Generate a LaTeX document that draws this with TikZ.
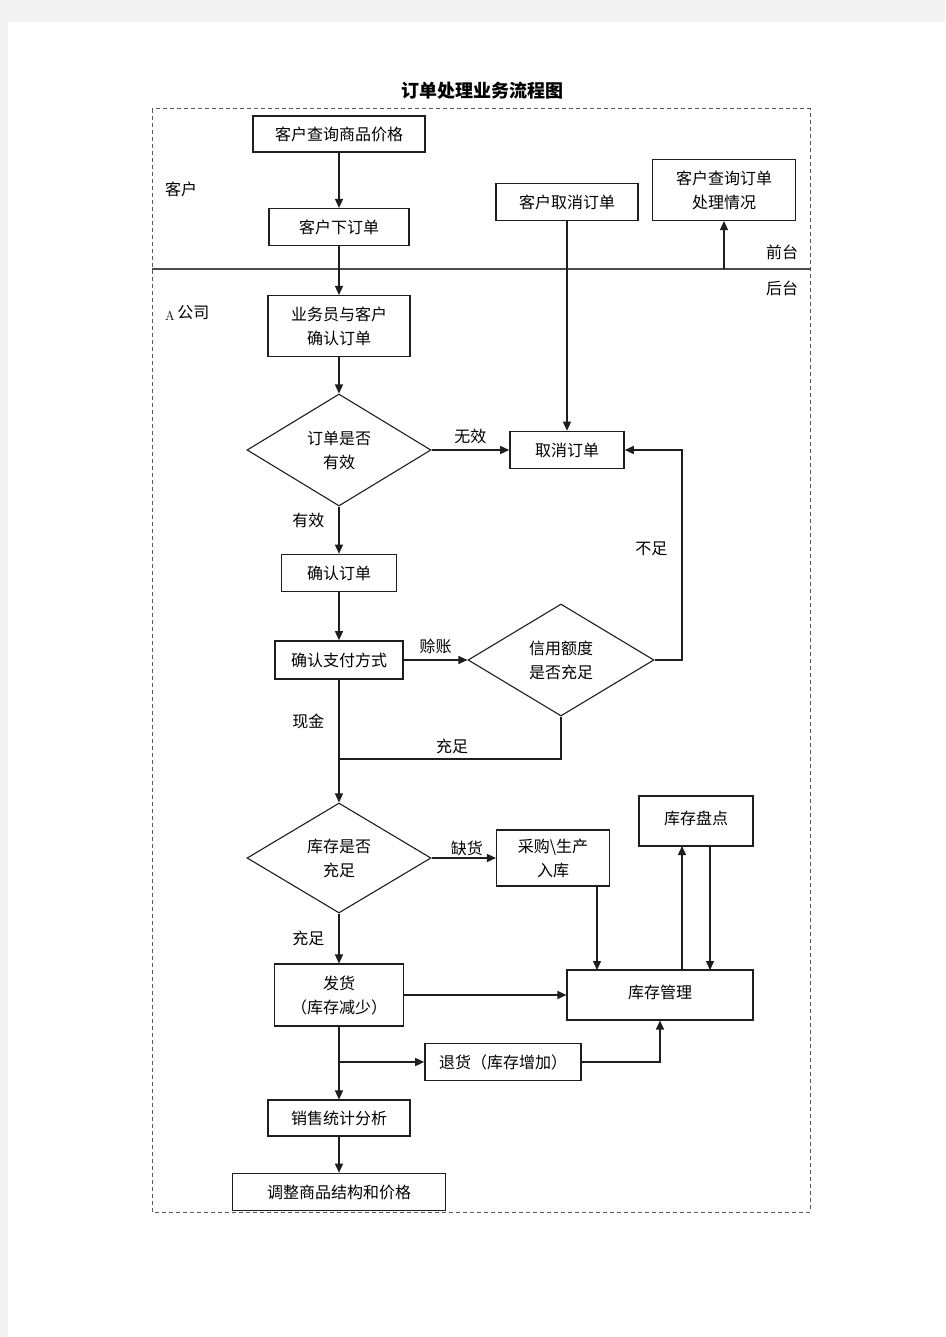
\documentclass[tikz,border=0pt]{standalone}
\usepackage{fontspec}
\newfontfamily\cjk{Noto Sans CJK SC}
\usetikzlibrary{shapes.geometric,arrows.meta}
\definecolor{pagebg}{RGB}{243,243,243}
\definecolor{ink}{RGB}{30,30,30}
\begin{document}
\begin{tikzpicture}[x=1pt,y=-1pt,
  box/.style={draw=ink, line width=1.1pt, inner sep=0pt, align=center, font=\cjk\fontsize{16}{24}\selectfont},
  thk/.style={line width=1.6pt},
  dia/.style={draw=ink, diamond, line width=1.1pt, inner sep=0pt, align=center, minimum width=184pt, minimum height=112pt, font=\cjk\fontsize{16}{24}\selectfont},
  lbl/.style={font=\cjk\fontsize{16}{18}\selectfont, inner sep=0pt},
  arr/.style={draw=ink, -{Triangle[length=9pt,width=8pt]}, line width=1.4pt},
  ln/.style={draw=ink, line width=1.4pt}]
% page
\fill[pagebg] (0,0) rectangle (945,1337);
\fill[white] (8,22) rectangle (945,1337);
\useasboundingbox (0,0) rectangle (945,1337);
% title
\node[font=\cjk\bfseries\fontsize{18}{20}\selectfont, inner sep=0pt] (title) at (482,91) {订单处理业务流程图};
% frame
\draw[gray!70!black, line width=1pt, dash pattern=on 4pt off 3pt] (152,109) rectangle (810,1212);
\draw[gray!60!black, line width=1.5pt] (152,269) coordinate (divl) -- (810,269) coordinate (divr);
% lane labels
\node[lbl] (kehu) at (181,189) {客户};
\node[lbl] (qiantai) at (782,252) {前台};
\node[lbl] (houtai) at (782,288) {后台};
\node[lbl, anchor=west] (gongsi) at (165,313) {\raisebox{-2pt}{\fontsize{13}{13}\selectfont\rmfamily A}\,公司};
% boxes
\node[box, minimum width=172pt, minimum height=36pt] (q1) at (339,134) {客户查询商品价格};
\node[box, minimum width=140pt, minimum height=37pt] (xd) at (339,227) {客户下订单};
\node[box, thk, minimum width=142pt, minimum height=37pt] (qx) at (567,202) {客户取消订单};
\node[box, minimum width=143pt, minimum height=61pt] (cx) at (724,190) {客户查询订单\\处理情况};
\node[box, minimum width=142pt, minimum height=61pt] (yw) at (339,326) {业务员与客户\\确认订单};
\node[dia] (d1) at (339,450) {订单是否\\有效};
\node[box, thk, minimum width=114pt, minimum height=37pt] (qxdd) at (567,450) {取消订单};
\node[box, thk, minimum width=115pt, minimum height=37pt] (qr) at (339,573) {确认订单};
\node[box, thk, minimum width=128pt, minimum height=38pt] (zf) at (339,660) {确认支付方式};
\node[dia, minimum width=186pt] (d2) at (561,660) {信用额度\\是否充足};
\node[dia, minimum height=110pt] (d3) at (339,858) {库存是否\\充足};
\node[box, minimum width=113pt, minimum height=56pt] (cg) at (553,858) {采购\textbackslash 生产\\入库};
\node[box, thk, minimum width=114pt, minimum height=50pt] (pd) at (696,821) {\raisebox{6pt}{库存盘点}};
\node[box, minimum width=129pt, minimum height=62pt] (fh) at (339,995) {发货\\（库存减少）};
\node[box, minimum width=186pt, minimum height=50pt] (gl) at (660,995) {\raisebox{6pt}{库存管理}};
\node[box, thk, minimum width=156pt, minimum height=37pt] (th) at (503,1062) {退货（库存增加）};
\node[box, minimum width=142pt, minimum height=36pt] (xs) at (339,1118) {销售统计分析};
\node[box, thk, minimum width=213pt, minimum height=37pt] (tz) at (339,1192) {调整商品结构和价格};
% helper coordinates
\coordinate (cxin) at (724,269);
\coordinate (j1) at (339,759);
\coordinate (j2) at (339,1062);
\coordinate (bend1) at (682,660);
\coordinate (bend2) at (682,450);
\coordinate (bend3) at (561,759);
\coordinate (bend4) at (660,1062);
\coordinate (cgout) at (597,886);
\coordinate (glin1) at (597,970);
\coordinate (glout) at (682,970);
\coordinate (pdin) at (682,846);
\coordinate (pdout) at (710,846);
\coordinate (glin2) at (710,970);
% connectors
\draw[arr] (q1) -- (xd);
\draw[arr] (xd) -- (yw);
\draw[arr] (cxin) -- (cx);
\draw[arr] (qx) -- (qxdd);
\draw[arr] (yw) -- (d1);
\draw[arr] (d1.east) -- node[lbl, above=5pt] (wx) {无效} (qxdd.west);
\draw[arr] (d1.south) -- node[lbl, pos=0.3, left=14pt] (yx) {有效} (qr.north);
\draw[arr] (qr) -- (zf);
\draw[arr] (zf.east) -- node[lbl, above=5pt, pos=0.5] (sz) {赊账} (d2.west);
\draw[arr] (d2.east) -- (bend1) -- node[lbl, left=14pt, pos=0.53] (bz) {不足} (bend2) -- (qxdd.east);
\draw[ln] (d2.south) -- (bend3) -- node[lbl, above=4pt, pos=0.49] (cz) {充足} (j1);
\draw[arr] (zf.south) -- node[lbl, pos=0.34, left=14pt] (xj) {现金} (d3.north);
\draw[arr] (d3.east) -- node[lbl, above=2pt, pos=0.55] (qh) {缺货} (cg.west);
\draw[arr] (d3.south) -- node[lbl, pos=0.5, left=14pt] (cz2) {充足} (fh.north);
\draw[arr] (cgout) -- (glin1);
\draw[arr] (glout) -- (pdin);
\draw[arr] (pdout) -- (glin2);
\draw[arr] (fh.east) -- (gl.west);
\draw[arr] (fh.south) -- (xs.north);
\draw[arr] (j2) -- (th.west);
\draw[arr] (th.east) -- (bend4) -- (gl.south);
\draw[arr] (xs) -- (tz);
\end{tikzpicture}
\end{document}
